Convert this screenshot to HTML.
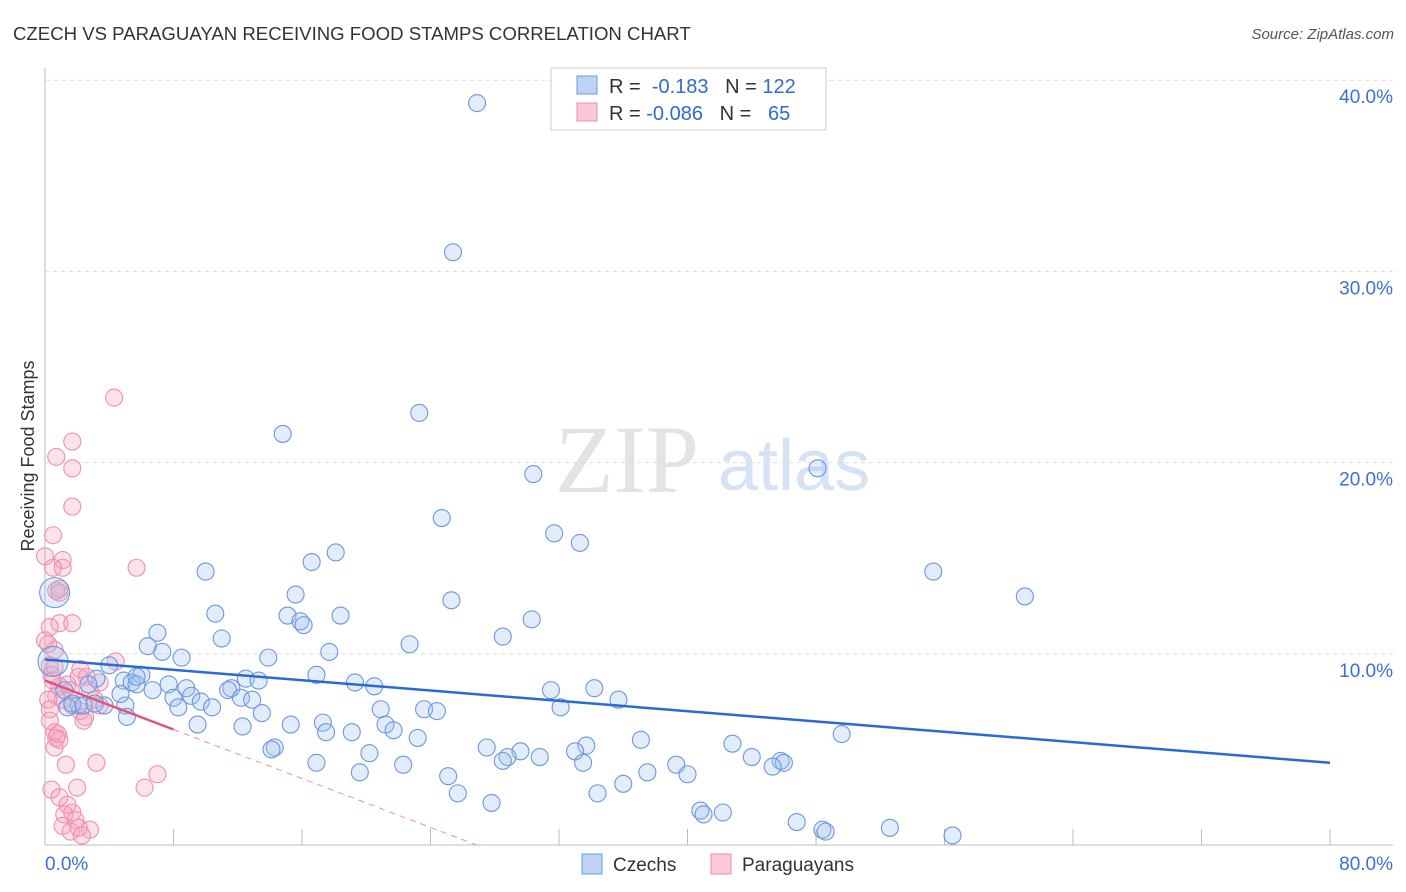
<!DOCTYPE html>
<html><head><meta charset="utf-8"><style>
body{margin:0;background:#fff;font-family:"Liberation Sans",sans-serif}
</style></head><body>
<svg id="c" width="1406" height="892" style="display:block">
<text x="13" y="40" font-size="18.6" fill="#333">CZECH VS PARAGUAYAN RECEIVING FOOD STAMPS CORRELATION CHART</text>
<text x="1394" y="39" font-size="15" fill="#555" font-style="italic" text-anchor="end">Source: ZipAtlas.com</text>
<text x="555" y="492" font-size="96" fill="#e3e3e3" font-family="Liberation Serif">ZIP</text>
<text x="718" y="490" font-size="72" fill="#d6e2f5">atlas</text>
<text transform="translate(34,456) rotate(-90)" font-size="18" fill="#333" text-anchor="middle">Receiving Food Stamps</text>
<g id="grid"></g><g id="marks"></g>
<g>
<rect x="551" y="68" width="275" height="62" fill="#fff" stroke="#ccc"/>
<rect x="577" y="76" width="20" height="18" fill="#bcd3f5" stroke="#6d9be0"/>
<rect x="577" y="103" width="20" height="18" fill="#f9c9d6" stroke="#ec8eaa"/>
<text x="609" y="93" font-size="20" fill="#333">R = <tspan fill="#2f6bd6">&#160;-0.183</tspan>&#160;&#160;&#160;N = <tspan fill="#2f6bd6">122</tspan></text>
<text x="609" y="120" font-size="20" fill="#333">R = <tspan fill="#2f6bd6">-0.086</tspan>&#160;&#160;&#160;N = <tspan fill="#2f6bd6">&#160;&#160;65</tspan></text>
</g>
<g>
<rect x="582" y="854" width="20" height="20" fill="#bcd3f5" stroke="#6d9be0"/>
<text x="613" y="871" font-size="19" fill="#333">Czechs</text>
<rect x="711" y="854" width="20" height="20" fill="#f9c9d6" stroke="#ec8eaa"/>
<text x="742" y="871" font-size="19" fill="#333">Paraguayans</text>
</g>
</svg>
<script>
const yTicks=[10,20,30,40];
const yTickLabels=["10.0%","20.0%","30.0%","40.0%"];
const xTicks=[0,8,16,24,32,40,48,56,64,72,80];
const czechX=[26.9,25.4,23.3,14.8,30.4,48.1,24.7,31.7,33.3,18.1,16.6,10.0,55.3,15.6,25.3,61.0,10.6,15.1,18.4,15.9,16.1,30.3,7.0,28.5,11.0,22.7,6.4,7.3,8.5,17.7,13.9,4.0,6.0,16.9,4.9,5.4,3.2,2.7,7.7,6.7,8.8,5.7,12.5,13.3,11.6,11.4,19.3,20.5,31.5,34.2,9.1,8.0,9.7,35.7,2.1,3.7,5.0,10.4,12.2,12.9,20.9,23.6,24.4,32.1,8.3,13.5,5.1,9.5,12.3,15.3,17.3,21.2,21.7,17.5,19.1,23.2,37.1,42.8,49.6,27.5,29.6,33.7,33.0,14.3,14.1,20.2,16.9,28.8,30.8,22.3,28.5,33.5,39.3,44.0,45.8,46.0,45.3,19.6,25.1,37.5,40.0,25.7,34.4,36.0,27.8,40.8,41.0,42.2,46.8,48.4,48.6,52.6,56.5,1.2,1.4,1.7,2.4,3.1,4.7,5.7];
const czechY=[38.8,31.0,22.6,21.5,19.4,19.7,17.1,16.3,15.8,15.3,14.8,14.3,14.3,13.1,12.8,13.0,12.1,12.0,12.0,11.7,11.5,11.8,11.1,10.9,10.8,10.5,10.4,10.1,9.8,10.1,9.8,9.4,8.9,8.9,8.6,8.5,8.7,8.4,8.4,8.1,8.2,8.4,8.7,8.6,8.2,8.1,8.5,8.3,8.1,8.2,7.8,7.7,7.5,7.6,7.3,7.3,7.3,7.2,7.7,7.6,7.1,7.1,7.0,7.2,7.2,6.9,6.7,6.3,6.2,6.3,6.4,6.3,6.0,5.9,5.9,5.6,5.5,5.3,5.8,5.1,4.9,5.2,4.9,5.1,5.0,4.8,4.3,4.6,4.6,4.2,4.4,4.3,4.2,4.6,4.4,4.3,4.1,3.8,3.6,3.8,3.7,2.7,2.7,3.2,2.2,1.8,1.6,1.7,1.2,0.8,0.7,0.9,0.5,8.1,7.2,7.4,7.3,7.4,7.9,8.8];
const czechBigX=[0.6,0.5];
const czechBigY=[13.2,9.6];
const paraX=[4.3,1.7,0.7,1.7,1.7,0.5,0.0,1.1,0.5,1.1,5.7,0.9,0.7,0.9,0.9,1.7,0.3,0.2,0.6,0.3,0.6,0.4,2.2,2.1,2.6,3.4,4.4,0.9,1.4,0.7,1.1,1.7,2.2,2.5,2.4,0.3,0.6,0.8,0.7,0.6,1.3,3.2,7.0,6.2,0.4,2.0,0.9,1.4,1.7,1.2,1.9,1.1,2.1,1.6,2.8,2.3,0.0,0.2,0.3,0.5,1.6,2.8,3.1,3.4,0.9];
const paraY=[23.4,21.1,20.3,19.7,17.7,16.2,15.1,14.9,14.5,14.5,14.5,13.4,13.3,13.2,11.6,11.6,11.4,10.5,10.2,9.4,9.3,8.9,9.2,8.8,8.8,8.5,9.6,8.3,8.4,7.8,7.6,7.3,7.0,6.7,6.5,6.5,5.9,5.8,5.6,5.1,4.2,4.3,3.7,3.0,2.9,3.0,2.5,2.1,1.7,1.6,1.3,1.0,0.9,0.7,0.8,0.5,10.7,7.6,7.1,8.6,8.1,8.1,7.6,7.3,5.5];
const czechTrend=[9.7,4.3];
const paraTrend=[8.6,-0.32];
const X0=45,X1=1330,Y0=845,YK=19.12;
const sx=v=>X0+(X1-X0)*v/80, sy=v=>Y0-v*YK;
const NS="http://www.w3.org/2000/svg";
function mk(t,a,p){const e=document.createElementNS(NS,t);for(const k in a)e.setAttribute(k,a[k]);p.appendChild(e);return e;}
const g=document.getElementById('grid'), m=document.getElementById('marks');
let e=mk('line',{x1:X0,y1:68,x2:X0,y2:Y0,stroke:'#bbb'},g);

e=mk('line',{x1:X0,y1:Y0,x2:1393,y2:Y0,stroke:'#bbb'},g);

yTicks.forEach((v,i)=>{
 const l=mk('line',{x1:X0,y1:sy(v),x2:1393,y2:sy(v),stroke:'#ddd','stroke-dasharray':'4,4'},g);
 
 const t=mk('text',{x:1393,y:sy(v)+23,'font-size':19,fill:'#3a70d6','text-anchor':'end'},g);t.textContent=yTickLabels[i];
 
});
xTicks.forEach(v=>{if(v>0){const l=mk('line',{x1:sx(v),y1:Y0-16,x2:sx(v),y2:Y0,stroke:'#bbb'},g);
 }});
e=mk('text',{x:X0,y:870,'font-size':19,fill:'#3a70d6'},g);e.textContent='0.0%';

e=mk('text',{x:1393,y:870,'font-size':19,fill:'#3a70d6','text-anchor':'end'},g);e.textContent='80.0%';

paraX.forEach((x,i)=>{const c=mk('circle',{cx:sx(x),cy:sy(paraY[i]),r:8.5,fill:'rgba(244,160,185,0.3)',stroke:'#f08fae','stroke-width':1.1},m);
 });
czechX.forEach((x,i)=>{const c=mk('circle',{cx:sx(x),cy:sy(czechY[i]),r:8.5,fill:'rgba(160,192,240,0.3)',stroke:'#6b98de','stroke-width':1.1},m);
 });
czechBigX.forEach((x,i)=>{const c=mk('circle',{cx:sx(x),cy:sy(czechBigY[i]),r:15,fill:'rgba(160,192,240,0.3)',stroke:'#6b98de','stroke-width':1.1},m);
 });
e=mk('line',{x1:sx(0),y1:sy(czechTrend[0]),x2:sx(80),y2:sy(czechTrend[1]),stroke:'#2a6ad8','stroke-width':2.5},m);

const pz=-paraTrend[0]/paraTrend[1];
e=mk('line',{x1:sx(0),y1:sy(paraTrend[0]),x2:sx(8),y2:sy(paraTrend[0]+8*paraTrend[1]),stroke:'#e6517f','stroke-width':2.5},m);

e=mk('line',{x1:sx(8),y1:sy(paraTrend[0]+8*paraTrend[1]),x2:sx(pz),y2:sy(0),stroke:'#ec8eaa','stroke-width':1,'stroke-dasharray':'6,5'},m);

</script>
</body></html>
